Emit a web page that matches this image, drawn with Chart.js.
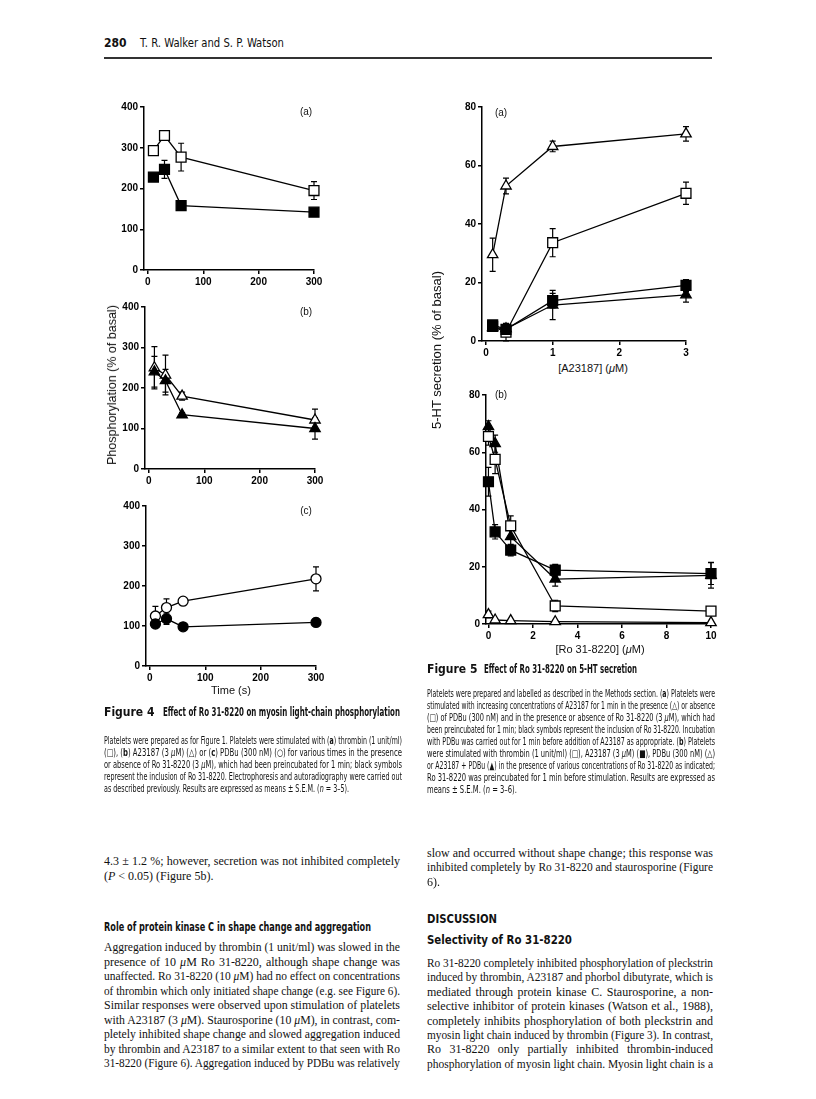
<!DOCTYPE html>
<html>
<head>
<meta charset="utf-8">
<script src="https://cdn.jsdelivr.net/npm/chart.js@4/dist/chart.umd.min.js"></script>
<style>
  body { margin: 0; background: #fff; }
  #page { position: relative; width: 816px; height: 1099px; overflow: hidden; background: #fff; color: #111; }
  canvas { position: absolute; }
  .ln { position: absolute; white-space: nowrap; }
  .body { font-family: 'Liberation Serif', 'Times New Roman', serif; font-size: 12px; line-height: 14px; }
  .cap { font-family: 'Liberation Sans Narrow', 'DejaVu Sans Condensed', 'Liberation Sans', sans-serif; font-size: 10px; line-height: 12px; }
  .hd { font-family: 'Liberation Sans Narrow', 'DejaVu Sans Condensed', 'Liberation Sans', sans-serif; font-weight: bold; font-size: 12px; line-height: 14px; }
  .ax { font-family: 'Liberation Sans', Arial, sans-serif; font-size: 11px; line-height: 14px; }
  .pl { font-family: 'Liberation Sans', Arial, sans-serif; font-size: 10px; line-height: 12px; }
  .rot { transform: translate(-50%, -50%) rotate(-90deg); }
  .rule { position: absolute; left: 104px; top: 57px; width: 608px; height: 2px; background: #333; }
</style>
</head>
<body>
<div id="page">
  <div class="ln hd" data-cy="43" style="left:104px">280</div>
  <div class="ln hd" data-cy="43" data-fit="144" style="left:140px;font-weight:normal">T. R. Walker and S. P. Watson</div>
  <div class="rule"></div>

  <canvas id="fig4a"></canvas>
  <canvas id="fig4b"></canvas>
  <canvas id="fig4c"></canvas>
  <canvas id="fig5a"></canvas>
  <canvas id="fig5b"></canvas>

  <!-- axis titles and panel letters -->
  <div class="ln ax rot" style="left:112px;top:385px;font-size:12.5px">Phosphorylation (% of basal)</div>
  <div class="ln ax rot" style="left:437px;top:350px;font-size:13px">5-HT secretion (% of basal)</div>
  <div class="ln ax" data-cx="231" data-cy="690">Time (s)</div>
  <div class="ln ax" data-cx="593" data-cy="368">[A23187] (<i>μ</i>M)</div>
  <div class="ln ax" data-cx="600" data-cy="649">[Ro 31-8220] (<i>μ</i>M)</div>
  <div class="ln pl" data-cx="306" data-cy="112">(a)</div>
  <div class="ln pl" data-cx="306" data-cy="312">(b)</div>
  <div class="ln pl" data-cx="306" data-cy="511">(c)</div>
  <div class="ln pl" data-cx="501" data-cy="113">(a)</div>
  <div class="ln pl" data-cx="501" data-cy="395">(b)</div>

  <!-- Figure 4 caption -->
  <div class="ln hd" data-cy="712" style="left:104px">Figure 4</div>
  <div class="ln hd" data-cy="712" data-fit="237" style="left:163px">Effect of Ro 31-8220 on myosin light-chain phosphorylation</div>
  <div class="ln cap" data-cy="741" data-j="298" style="left:104px">Platelets were prepared as for Figure 1. Platelets were stimulated with (<b>a</b>) thrombin (1 unit/ml)</div>
  <div class="ln cap" data-cy="753" data-j="298" style="left:104px">(□), (<b>b</b>) A23187 (3 <i>μ</i>M) (△) or (<b>c</b>) PDBu (300 nM) (○) for various times in the presence</div>
  <div class="ln cap" data-cy="765" data-j="298" style="left:104px">or absence of Ro 31-8220 (3 <i>μ</i>M), which had been preincubated for 1 min; black symbols</div>
  <div class="ln cap" data-cy="777" data-j="298" style="left:104px">represent the inclusion of Ro 31-8220. Electrophoresis and autoradiography were carried out</div>
  <div class="ln cap" data-cy="789" data-last="1" style="left:104px">as described previously. Results are expressed as means ± S.E.M. (<i>n</i> = 3–5).</div>

  <!-- Figure 5 caption -->
  <div class="ln hd" data-cy="669" style="left:427px">Figure 5</div>
  <div class="ln hd" data-cy="669" data-fit="153" style="left:484px">Effect of Ro 31-8220 on 5-HT secretion</div>
  <div class="ln cap" data-cy="694" data-j="288" style="left:427px">Platelets were prepared and labelled as described in the Methods section. (<b>a</b>) Platelets were</div>
  <div class="ln cap" data-cy="706" data-j="288" style="left:427px">stimulated with increasing concentrations of A23187 for 1 min in the presence (△) or absence</div>
  <div class="ln cap" data-cy="718" data-j="288" style="left:427px">(□) of PDBu (300 nM) and in the presence or absence of Ro 31-8220 (3 <i>μ</i>M), which had</div>
  <div class="ln cap" data-cy="730" data-j="288" style="left:427px">been preincubated for 1 min; black symbols represent the inclusion of Ro 31-8220. Incubation</div>
  <div class="ln cap" data-cy="742" data-j="288" style="left:427px">with PDBu was carried out for 1 min before addition of A23187 as appropriate. (<b>b</b>) Platelets</div>
  <div class="ln cap" data-cy="754" data-j="288" style="left:427px">were stimulated with thrombin (1 unit/ml) (□), A23187 (3 <i>μ</i>M) (■), PDBu (300 nM) (△)</div>
  <div class="ln cap" data-cy="766" data-j="288" style="left:427px">or A23187 + PDBu (▲) in the presence of various concentrations of Ro 31-8220 as indicated;</div>
  <div class="ln cap" data-cy="778" data-j="288" style="left:427px">Ro 31-8220 was preincubated for 1 min before stimulation. Results are expressed as</div>
  <div class="ln cap" data-cy="790" data-last="1" style="left:427px">means ± S.E.M. (<i>n</i> = 3–6).</div>

  <!-- left column body -->
  <div class="ln body" data-cy="861" data-j="296" style="left:104px">4.3 ± 1.2 %; however, secretion was not inhibited completely</div>
  <div class="ln body" data-cy="876" style="left:104px">(<i>P</i> &lt; 0.05) (Figure 5b).</div>
  <div class="ln hd" data-cy="927" data-fit="267" style="left:104px">Role of protein kinase C in shape change and aggregation</div>
  <div class="ln body" data-cy="947" data-j="296" style="left:104px">Aggregation induced by thrombin (1 unit/ml) was slowed in the</div>
  <div class="ln body" data-cy="962" data-j="296" style="left:104px">presence of 10 <i>μ</i>M Ro 31-8220, although shape change was</div>
  <div class="ln body" data-cy="976" data-j="296" style="left:104px">unaffected. Ro 31-8220 (10 <i>μ</i>M) had no effect on concentrations</div>
  <div class="ln body" data-cy="991" data-j="296" style="left:104px">of thrombin which only initiated shape change (e.g. see Figure 6).</div>
  <div class="ln body" data-cy="1005" data-j="296" style="left:104px">Similar responses were observed upon stimulation of platelets</div>
  <div class="ln body" data-cy="1020" data-j="296" style="left:104px">with A23187 (3 <i>μ</i>M). Staurosporine (10 <i>μ</i>M), in contrast, com-</div>
  <div class="ln body" data-cy="1034" data-j="296" style="left:104px">pletely inhibited shape change and slowed aggregation induced</div>
  <div class="ln body" data-cy="1049" data-j="296" style="left:104px">by thrombin and A23187 to a similar extent to that seen with Ro</div>
  <div class="ln body" data-cy="1063" data-j="296" style="left:104px">31-8220 (Figure 6). Aggregation induced by PDBu was relatively</div>

  <!-- right column body -->
  <div class="ln body" data-cy="853" data-j="286" style="left:427px">slow and occurred without shape change; this response was</div>
  <div class="ln body" data-cy="867" data-j="286" style="left:427px">inhibited completely by Ro 31-8220 and staurosporine (Figure</div>
  <div class="ln body" data-cy="882" style="left:427px">6).</div>
  <div class="ln hd" data-cy="919" data-fit="70" style="left:427px">DISCUSSION</div>
  <div class="ln hd" data-cy="940" data-fit="145" style="left:427px">Selectivity of Ro 31-8220</div>
  <div class="ln body" data-cy="963" data-j="286" style="left:427px">Ro 31-8220 completely inhibited phosphorylation of pleckstrin</div>
  <div class="ln body" data-cy="977" data-j="286" style="left:427px">induced by thrombin, A23187 and phorbol dibutyrate, which is</div>
  <div class="ln body" data-cy="992" data-j="286" style="left:427px">mediated through protein kinase C. Staurosporine, a non-</div>
  <div class="ln body" data-cy="1006" data-j="286" style="left:427px">selective inhibitor of protein kinases (Watson et al., 1988),</div>
  <div class="ln body" data-cy="1021" data-j="286" style="left:427px">completely inhibits phosphorylation of both pleckstrin and</div>
  <div class="ln body" data-cy="1035" data-j="286" style="left:427px">myosin light chain induced by thrombin (Figure 3). In contrast,</div>
  <div class="ln body" data-cy="1049" data-j="286" style="left:427px">Ro 31-8220 only partially inhibited thrombin-induced</div>
  <div class="ln body" data-cy="1064" data-j="286" style="left:427px">phosphorylation of myosin light chain. Myosin light chain is a</div>
</div>

<script>
// ---- data ----
// Figure 4: time course of myosin light-chain phosphorylation
const time4 = [10, 30, 60, 300];
const time4Ticks = [0, 100, 200, 300];
const phosTicks = [0, 100, 200, 300, 400];

const thrombin4 = [293, 330, 277, 195];
const thrombin4Err = [8, 0, 34, 22];
const thrombinRo4 = [228, 247, 158, 142];
const thrombinRo4Err = [0, 22, 12, 8];

const a23187_4 = [250, 232, 180, 121];
const a23187_4Err = [52, 49, 10, 27];
const a23187Ro4 = [240, 218, 134, 100];
const a23187Ro4Err = [38, 28, 5, 26];

const pdbu4 = [125, 146, 162, 218];
const pdbu4Err = [24, 22, 5, 30];
const pdbuRo4 = [105, 118, 98, 109];
const pdbuRo4Err = [8, 14, 6, 10];

// Figure 5a: 5-HT secretion vs [A23187]
const a23Conc = [0.1, 0.3, 1, 3];
const a23Ticks = [0, 1, 2, 3];
const secTicks = [0, 20, 40, 60, 80];
const plusPdbu = [29.5, 53, 66.5, 70.8];
const plusPdbuErr = [5.7, 2.7, 1.8, 2.5];
const noPdbu = [5, 3, 33.6, 50.5];
const noPdbuErr = [1, 3, 4.8, 3.8];
const noPdbuRo = [5.5, 4, 13.8, 19];
const noPdbuRoErr = [1.5, 1, 2.5, 2];
const plusPdbuRo = [4.6, 4.2, 12.3, 15.8];
const plusPdbuRoErr = [1, 1, 5, 2.5];

// Figure 5b: 5-HT secretion vs [Ro 31-8220]
const roConc = [0, 0.3, 1, 3, 10];
const roTicks = [0, 2, 4, 6, 8, 10];
const thrombin5 = [65.5, 57.5, 34.3, 6.3, 4.5];
const thrombin5Err = [3, 5, 3.5, 2, 0.6];
const a23187_5 = [49.7, 32.2, 25.8, 18.8, 17.6];
const a23187_5Err = [5, 2.5, 2, 2, 3.8];
const pdbu5 = [3.3, 1.4, 1.2, 0.8, 0.5];
const pdbu5Err = [1.2, 0.4, 0.3, 0.3, 0.2];
const both5 = [69, 63, 30.5, 15.7, 17];
const both5Err = [2, 3, 3, 2.5, 4.5];

// ---- text placement helpers ----
let lastScale = 1;  // squeeze used by the previous justified line, reused for a paragraph's last line
document.querySelectorAll('.ln').forEach(function(el) {
    const r = el.getBoundingClientRect();
    if (el.dataset.cy) el.style.top = (+el.dataset.cy - r.height / 2) + 'px';
    if (el.dataset.cx) el.style.left = (+el.dataset.cx - r.width / 2) + 'px';
    const nat = r.width;
    let sc = 1;
    if (el.dataset.j) {
        // justify a single line to the column width
        const w = +el.dataset.j;
        const spaces = (el.textContent.match(/ /g) || []).length;
        if (nat < w && spaces) {
            el.style.wordSpacing = ((w - nat) / spaces) + 'px';
        } else if (nat > w) {
            sc = w / nat;
        }
        lastScale = sc;
    } else if (el.dataset.fit) {
        sc = +el.dataset.fit / nat;
    } else if (el.dataset.last) {
        sc = lastScale;
    }
    if (sc !== 1) {
        el.style.transformOrigin = 'left center';
        el.style.transform = 'scaleX(' + sc + ')';
    }
});

// ---- charts ----
// error bars drawn under the markers, through the chart's own scales
const errorBars = {
    id: 'errorBars',
    beforeDatasetsDraw(chart) {
        const ctx = chart.ctx, xs = chart.scales.x, ys = chart.scales.y;
        ctx.save();
        ctx.strokeStyle = '#000';
        ctx.lineWidth = 1.2;
        chart.data.datasets.forEach(function(ds) {
            if (!ds.errors) return;
            ds.data.forEach(function(p, i) {
                const e = ds.errors[i];
                if (!e) return;
                const px = xs.getPixelForValue(p.x);
                const y1 = ys.getPixelForValue(p.y + e);
                const y2 = ys.getPixelForValue(Math.max(p.y - e, 0));
                ctx.beginPath();
                ctx.moveTo(px, y1); ctx.lineTo(px, y2);
                ctx.moveTo(px - 3, y1); ctx.lineTo(px + 3, y1);
                ctx.moveTo(px - 3, y2); ctx.lineTo(px + 3, y2);
                ctx.stroke();
            });
        });
        ctx.restore();
    }
};

function series(xv, yv, err, style, filled, r) {
    return {
        data: xv.map(function(x, i) { return { x: x, y: yv[i] }; }),
        errors: err,
        pointStyle: style,
        pointRadius: r,
        pointBackgroundColor: filled ? '#000' : '#fff',
        pointBorderColor: '#000',
        pointBorderWidth: 1.3,
        borderColor: '#000',
        borderWidth: 1.3,
        tension: 0,
        fill: false,
        clip: false
    };
}

function axis(min, max, ticks, fit) {
    return {
        type: 'linear',
        min: min,
        max: max,
        afterBuildTicks: function(s) { s.ticks = ticks.map(function(v) { return { value: v }; }); },
        afterFit: fit,
        border: { display: true, color: '#000', width: 1.5 },
        grid: { display: true, drawOnChartArea: false, drawTicks: true, tickLength: 4, color: '#000', lineWidth: 1.5 },
        ticks: { color: '#000', font: { family: 'Liberation Sans', size: 10, weight: 'bold' }, padding: 2, autoSkip: false, maxRotation: 0 }
    };
}

function panel(id, box, xMin, xMax, xTicks, yMax, yTicks, datasets) {
    const cv = document.getElementById(id);
    const padL = 40, padT = 10, padR = 16, padB = 20;
    const W = box.right - box.left + padL + padR;
    const H = box.bottom - box.top + padT + padB;
    cv.width = W; cv.height = H;
    cv.style.left = (box.left - padL) + 'px';
    cv.style.top = (box.top - padT) + 'px';
    cv.style.width = W + 'px';
    cv.style.height = H + 'px';
    new Chart(cv, {
        type: 'line',
        data: { datasets: datasets },
        options: {
            responsive: false,
            animation: false,
            devicePixelRatio: 1,
            layout: { padding: { top: padT, right: padR, left: 0, bottom: 0 } },
            plugins: { legend: { display: false }, tooltip: { enabled: false } },
            scales: {
                x: axis(xMin, xMax, xTicks, function(s) { s.height = padB; }),
                y: axis(0, yMax, yTicks, function(s) { s.width = padL; })
            }
        },
        plugins: [errorBars]
    });
}

panel('fig4a', { left: 144, right: 314, top: 107, bottom: 270 }, -7, 300, time4Ticks, 400, phosTicks, [
    series(time4, thrombinRo4, thrombinRo4Err, 'rect', true, 7),
    series(time4, thrombin4, thrombin4Err, 'rect', false, 7)
]);
panel('fig4b', { left: 145, right: 315, top: 307, bottom: 469 }, -7, 300, time4Ticks, 400, phosTicks, [
    series(time4, a23187Ro4, a23187Ro4Err, 'triangle', true, 6),
    series(time4, a23187_4, a23187_4Err, 'triangle', false, 6)
]);
panel('fig4c', { left: 146, right: 316, top: 506, bottom: 666 }, -7, 300, time4Ticks, 400, phosTicks, [
    series(time4, pdbuRo4, pdbuRo4Err, 'circle', true, 5),
    series(time4, pdbu4, pdbu4Err, 'circle', false, 5)
]);
panel('fig5a', { left: 482, right: 686, top: 107, bottom: 341 }, -0.06, 3, a23Ticks, 80, secTicks, [
    series(a23Conc, noPdbuRo, noPdbuRoErr, 'rect', true, 7),
    series(a23Conc, plusPdbuRo, plusPdbuRoErr, 'triangle', true, 6),
    series(a23Conc, noPdbu, noPdbuErr, 'rect', false, 7),
    series(a23Conc, plusPdbu, plusPdbuErr, 'triangle', false, 6)
]);
panel('fig5b', { left: 486, right: 711, top: 395, bottom: 624 }, -0.11, 10, roTicks, 80, secTicks, [
    series(roConc, thrombin5, thrombin5Err, 'rect', false, 7),
    series(roConc, a23187_5, a23187_5Err, 'rect', true, 7),
    series(roConc, both5, both5Err, 'triangle', true, 6),
    series(roConc, pdbu5, pdbu5Err, 'triangle', false, 6)
]);
</script>
</body>
</html>
